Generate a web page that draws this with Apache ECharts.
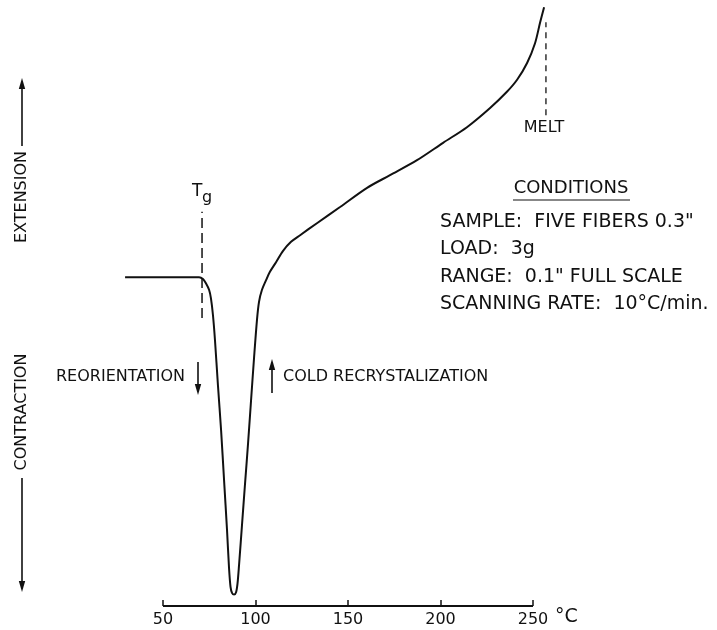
<!DOCTYPE html>
<html>
<head>
<meta charset="utf-8">
<script src="https://cdn.jsdelivr.net/npm/echarts@6/dist/echarts.min.js"></script>
<style>
html,body{margin:0;padding:0;background:#fff;}
#chart{width:717px;height:630px;}
</style>
</head>
<body>
<div id="chart"></div>
<script>
// Temperature (°C) and relative extension (arbitrary units, 0 = bottom of frame)
var temperature = [29.5, 69.5, 71.6, 73.2, 74.9, 75.9, 77.0, 78.1, 79.7, 81.4, 83.0, 84.6, 85.7, 86.5, 87.3, 88.4, 89.5, 90.3, 91.1, 92.7, 94.3, 96.0, 97.6, 99.2, 100.8, 101.9, 103.5, 105.7, 107.8, 111.1, 114.9, 119.2, 124.1, 133.2, 145.7, 160.3, 172.7, 187.3, 201.4, 214.3, 226.8, 235.9, 241.4, 246.8, 251.1, 253.8, 256.0];
var extension   = [54.8, 54.8, 54.5, 53.8, 52.7, 51.3, 48.5, 44.3, 36.8, 29.3, 21.0, 12.7, 6.3, 3.2, 2.2, 1.9, 2.3, 3.8, 6.8, 13.5, 20.2, 27.2, 34.3, 41.3, 47.7, 50.7, 52.7, 54.3, 55.7, 57.3, 59.2, 60.7, 61.8, 63.8, 66.5, 69.7, 71.8, 74.3, 77.2, 79.8, 83.0, 85.7, 87.7, 90.5, 93.8, 97.2, 99.8];
var xTicks = [50, 100, 150, 200, 250];
var tgMarker   = {x: 71.1, from: 48.0, to: 65.7};
var meltMarker = {x: 257.0, from: 81.8, to: 97.3};
var conditionLines = ['SAMPLE:  FIVE FIBERS 0.3"', 'LOAD:  3g', 'RANGE:  0.1" FULL SCALE', 'SCANNING RATE:  10°C/min.'];

var FONT = 'DejaVu Sans';
var data = temperature.map(function (t, i) { return [t, extension[i]]; });

var chart = echarts.init(document.getElementById('chart'), null, {renderer: 'canvas'});

var graphics = [];
function txt(x, y, s, size, align, rot) {
  graphics.push({type: 'text', x: x, y: y, rotation: rot || 0,
    style: {text: s, fontFamily: FONT, fontSize: size || 16, fill: '#111',
      textAlign: align || 'left', textVerticalAlign: 'middle'}});
}
function vArrow(x, y1, y2) { // arrowhead at y2
  var dir = y2 < y1 ? -1 : 1;
  graphics.push({type: 'line', shape: {x1: x, y1: y1, x2: x, y2: y2 - dir * 8}, style: {stroke: '#111', lineWidth: 1.6}});
  graphics.push({type: 'polygon', shape: {points: [[x - 3.2, y2 - dir * 11], [x + 3.2, y2 - dir * 11], [x, y2]]}, style: {fill: '#111'}});
}
// left side labels
txt(22, 197, 'EXTENSION', 16, 'center', Math.PI / 2);
vArrow(22, 146, 78);
txt(22, 412, 'CONTRACTION', 16, 'center', Math.PI / 2);
vArrow(22, 478, 592);
// annotations
txt(185, 377, 'REORIENTATION', 16, 'right');
vArrow(198, 362, 395);
vArrow(272, 393, 359);
txt(283, 377, 'COLD RECRYSTALIZATION', 16, 'left');
// Tg and melt labels
graphics.push({type: 'text', x: 192, y: 192, style: {text: 'T', fontFamily: FONT, fontSize: 17, fill: '#111', textVerticalAlign: 'middle'}});
graphics.push({type: 'text', x: 202, y: 198, style: {text: 'g', fontFamily: FONT, fontSize: 16, fill: '#111', textVerticalAlign: 'middle'}});
txt(544, 128, 'MELT', 16, 'center');
// conditions
txt(571, 188, 'CONDITIONS', 18, 'center');
graphics.push({type: 'line', shape: {x1: 513, y1: 200, x2: 630, y2: 200}, style: {stroke: '#111', lineWidth: 1.2}});
conditionLines.forEach(function (s, i) { txt(440, 222 + i * 27.5, s, 19, 'left'); });
// °C unit
txt(555, 617, '°C', 19, 'left');

var option = {
  backgroundColor: '#fff',
  animation: false,
  grid: {left: 70.5, right: 165.5, top: 6, bottom: 24, containLabel: false},
  xAxis: {
    type: 'value', min: 0, max: 260,
    axisLine: {show: false},
    axisTick: {show: true, inside: true, length: 6, customValues: xTicks, lineStyle: {color: '#111', width: 1.5}},
    axisLabel: {color: '#111', fontFamily: FONT, fontSize: 16, margin: 6, customValues: xTicks},
    splitLine: {show: false}
  },
  yAxis: {
    type: 'value', min: 0, max: 100, show: false, splitLine: {show: false}
  },
  series: [
    {
      name: 'curve', type: 'line', data: data, clip: false, smooth: 0.3, symbol: 'none',
      lineStyle: {color: '#111', width: 2}
    },
    {
      name: 'axis', type: 'line', data: [[xTicks[0], 0], [xTicks[xTicks.length - 1], 0]], clip: false, symbol: 'none',
      lineStyle: {color: '#111', width: 2}
    },
    {
      name: 'Tg', type: 'line', data: [[tgMarker.x, tgMarker.from], [tgMarker.x, tgMarker.to]], symbol: 'none',
      lineStyle: {color: '#111', width: 1.5, type: [10, 5]}
    },
    {
      name: 'melt', type: 'line', data: [[meltMarker.x, meltMarker.from], [meltMarker.x, meltMarker.to]], symbol: 'none',
      lineStyle: {color: '#111', width: 1.3, type: [6, 5]}
    }
  ],
  graphic: graphics
};
chart.setOption(option);
</script>
</body>
</html>
